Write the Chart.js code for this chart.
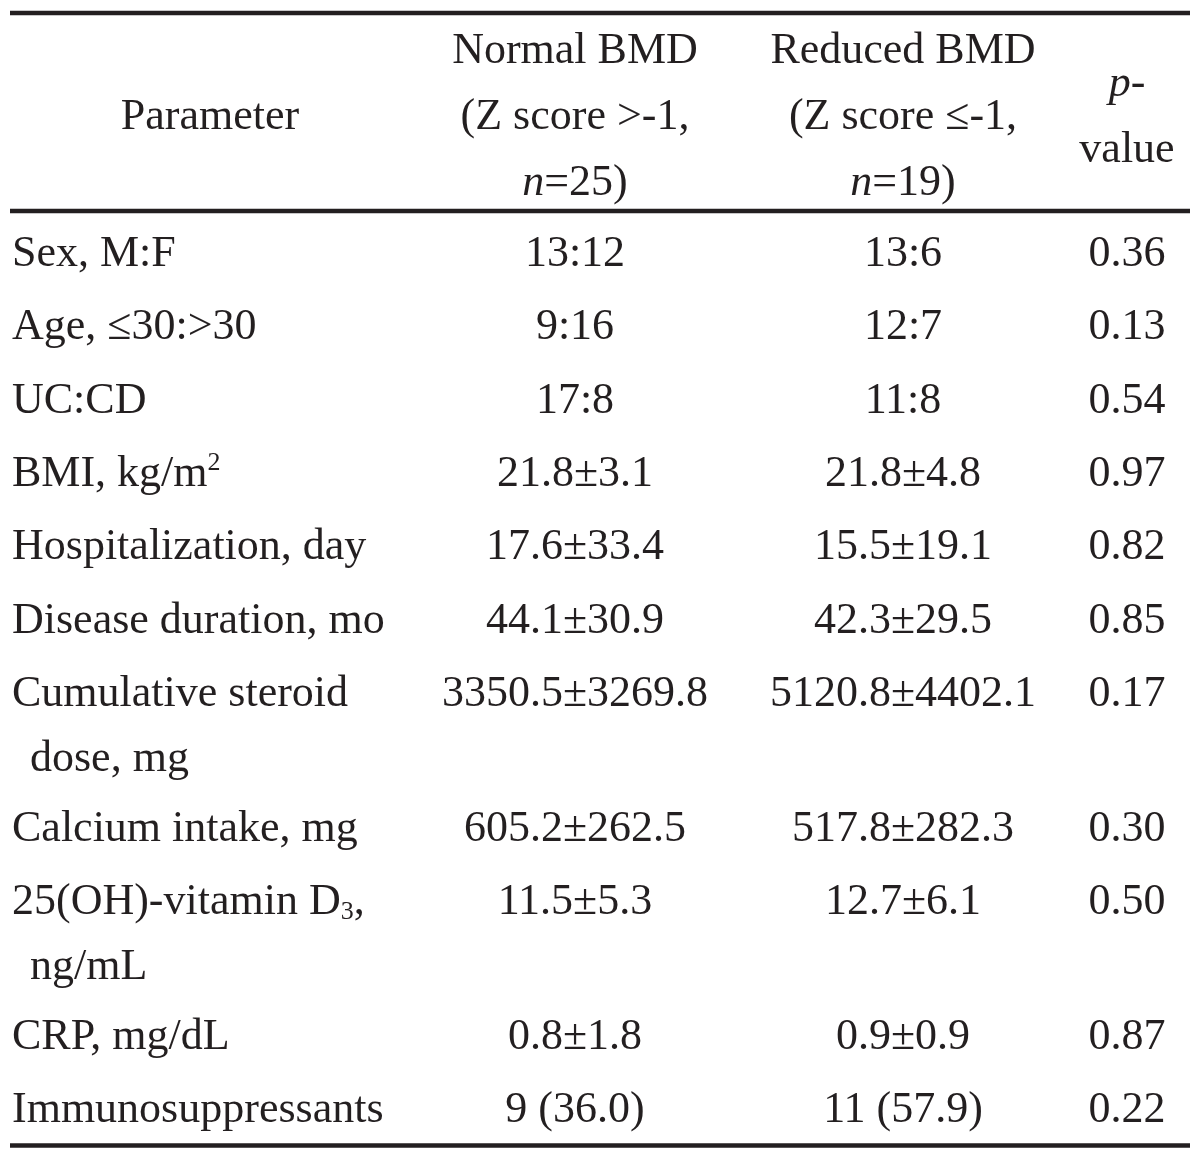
<!DOCTYPE html>
<html>
<head>
<meta charset="utf-8">
<script src="https://cdn.jsdelivr.net/npm/chart.js@4.4.1/dist/chart.umd.min.js"></script>
<style>
  html, body { margin: 0; padding: 0; background: #fff; }
  #wrap { width: 1200px; height: 1156px; }
</style>
</head>
<body>
<div id="wrap"><canvas id="tableChart" width="1200" height="1156"></canvas></div>
<script>
// Text markup: *italic*, ^{superscript}, _{subscript}
const headParameter = ["Parameter"];
const headNormal = ["Normal BMD", "(Z score >-1,", "*n*=25)"];
const headReduced = ["Reduced BMD", "(Z score ≤-1,", "*n*=19)"];
const headPValue = ["*p*-", "value"];

const parameters = [
  ["Sex, M:F"],
  ["Age, ≤30:>30"],
  ["UC:CD"],
  ["BMI, kg/m^{2}"],
  ["Hospitalization, day"],
  ["Disease duration, mo"],
  ["Cumulative steroid", "dose, mg"],
  ["Calcium intake, mg"],
  ["25(OH)-vitamin D_{3},", "ng/mL"],
  ["CRP, mg/dL"],
  ["Immunosuppressants"]
];
const normalBMD = ["13:12", "9:16", "17:8", "21.8±3.1", "17.6±33.4", "44.1±30.9",
  "3350.5±3269.8", "605.2±262.5", "11.5±5.3", "0.8±1.8", "9 (36.0)"];
const reducedBMD = ["13:6", "12:7", "11:8", "21.8±4.8", "15.5±19.1", "42.3±29.5",
  "5120.8±4402.1", "517.8±282.3", "12.7±6.1", "0.9±0.9", "11 (57.9)"];
const pValues = [0.36, 0.13, 0.54, 0.97, 0.82, 0.85, 0.17, 0.30, 0.50, 0.87, 0.22];

// Layout (page units, mapped through the chart's linear scales)
const W = 1200, H = 1156;
const FONT = '"Liberation Serif", "Times New Roman", serif';
const SIZE = 44;
const INK = '#231f20';
const layout = {
  ruleLeft: 10, ruleRight: 1190, ruleWidth: 4.5,
  topRule: 13, headMid: 129, headLine: 66, headRuleGap: 16,
  firstRow: 266, rowStep: 73.3, wrapLine: 65, wrapStep: 61.7, bottomGap: 23,
  paramX: 12, paramIndent: 30, paramHeadX: 210,
  colX: [575, 903, 1127]
};

// build cell points
const cells = [];
const headCols = [
  { lines: headParameter, x: layout.paramHeadX },
  { lines: headNormal, x: layout.colX[0] },
  { lines: headReduced, x: layout.colX[1] },
  { lines: headPValue, x: layout.colX[2] }
];
let headLast = 0;
headCols.forEach(col => {
  const first = layout.headMid - (col.lines.length - 1) / 2 * layout.headLine;
  col.lines.forEach((t, j) => {
    const y = first + j * layout.headLine;
    headLast = Math.max(headLast, y);
    cells.push({ x: col.x, y: y, text: t, align: 'center' });
  });
});
const headRule = headLast + layout.headRuleGap;

let rowY = layout.firstRow;
let lastBase = rowY;
parameters.forEach((lines, i) => {
  lines.forEach((t, j) => {
    const y = rowY + j * layout.wrapLine;
    lastBase = y;
    cells.push({ x: j === 0 ? layout.paramX : layout.paramIndent, y: y, text: t, align: 'left' });
  });
  cells.push({ x: layout.colX[0], y: rowY, text: normalBMD[i], align: 'center' });
  cells.push({ x: layout.colX[1], y: rowY, text: reducedBMD[i], align: 'center' });
  cells.push({ x: layout.colX[2], y: rowY, text: pValues[i].toFixed(2), align: 'center' });
  rowY += layout.rowStep + (lines.length - 1) * layout.wrapStep;
});
const bottomRule = lastBase + layout.bottomGap;

function rule(y) {
  return {
    data: [{ x: layout.ruleLeft, y: y }, { x: layout.ruleRight, y: y }],
    showLine: true, borderColor: INK, borderWidth: layout.ruleWidth,
    pointRadius: 0, clip: false
  };
}

// rich text drawing
function parseRich(str) {
  const segs = [];
  const re = /\*([^*]+)\*|\^\{([^}]+)\}|_\{([^}]+)\}|([^*^_]+)/g;
  let m;
  while ((m = re.exec(str))) {
    if (m[1]) segs.push({ t: m[1], kind: 'it' });
    else if (m[2]) segs.push({ t: m[2], kind: 'sup' });
    else if (m[3]) segs.push({ t: m[3], kind: 'sub' });
    else segs.push({ t: m[4], kind: 'rm' });
  }
  return segs;
}
function segFont(kind) {
  if (kind === 'it') return 'italic ' + SIZE + 'px ' + FONT;
  if (kind === 'sup' || kind === 'sub') return Math.round(SIZE * 0.6) + 'px ' + FONT;
  return SIZE + 'px ' + FONT;
}
function drawRich(ctx, str, x, y, align) {
  const segs = parseRich(str);
  let total = 0;
  segs.forEach(s => { ctx.font = segFont(s.kind); s.w = ctx.measureText(s.t).width; total += s.w; });
  let cx = align === 'center' ? x - total / 2 : x;
  segs.forEach(s => {
    ctx.font = segFont(s.kind);
    let dy = 0;
    if (s.kind === 'sup') dy = -SIZE * 0.36;
    if (s.kind === 'sub') dy = SIZE * 0.1;
    ctx.fillText(s.t, cx, y + dy);
    cx += s.w;
  });
}

const tableText = {
  id: 'tableText',
  afterDatasetsDraw(chart) {
    const ctx = chart.ctx;
    const idx = chart.data.datasets.findIndex(d => d.label === 'cells');
    const meta = chart.getDatasetMeta(idx);
    const ds = chart.data.datasets[idx];
    ctx.save();
    ctx.fillStyle = INK;
    ctx.textBaseline = 'alphabetic';
    ctx.textAlign = 'left';
    meta.data.forEach((el, i) => {
      drawRich(ctx, ds.data[i].text, el.x, el.y, ds.data[i].align);
    });
    ctx.restore();
  }
};

new Chart(document.getElementById('tableChart'), {
  type: 'scatter',
  data: {
    datasets: [
      { label: 'cells', data: cells, pointRadius: 0, showLine: false },
      rule(layout.topRule),
      rule(headRule),
      rule(bottomRule)
    ]
  },
  options: {
    responsive: false,
    animation: false,
    layout: { padding: 0 },
    plugins: { legend: { display: false }, tooltip: { enabled: false } },
    scales: {
      x: { type: 'linear', min: 0, max: W, display: false },
      y: { type: 'linear', min: 0, max: H, reverse: true, display: false }
    }
  },
  plugins: [tableText]
});
</script>
</body>
</html>
